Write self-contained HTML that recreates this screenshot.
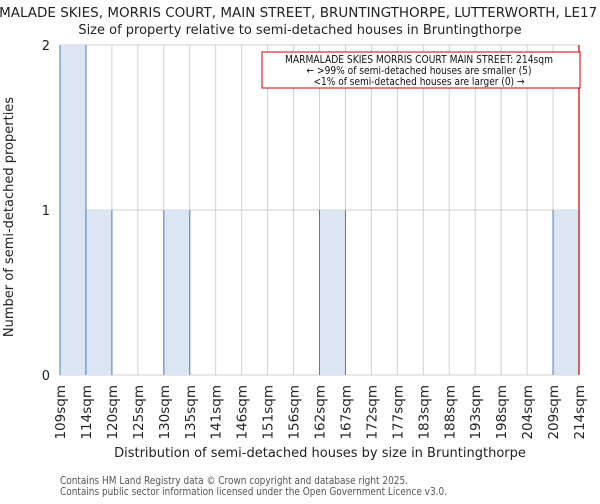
<!DOCTYPE html>
<html><head><meta charset="utf-8"><style>
body{margin:0;background:#fff;font-family:"DejaVu Sans","Liberation Sans",sans-serif}
svg text{font-family:"DejaVu Sans","Liberation Sans",sans-serif}
</style></head><body>
<svg id="chart" width="600" height="500" xmlns="http://www.w3.org/2000/svg">
<text x="300" y="17" font-size="13.5" text-anchor="middle" fill="#222">MARMALADE SKIES, MORRIS COURT, MAIN STREET, BRUNTINGTHORPE, LUTTERWORTH, LE17 5QG</text>
<text x="300" y="34" font-size="13" text-anchor="middle" fill="#222">Size of property relative to semi-detached houses in Bruntingthorpe</text>
<g id="grid"></g>
<g id="bars"></g>
<g id="yticks"></g>
<g id="xticks"></g>
<text transform="translate(13,217) rotate(-90)" font-size="13" text-anchor="middle" fill="#222">Number of semi-detached properties</text>
<text x="320" y="457" font-size="13" text-anchor="middle" fill="#222">Distribution of semi-detached houses by size in Bruntingthorpe</text>
<line id="marker" stroke="#cc0000" stroke-width="1.2"/>
<g>
<rect x="262" y="52" width="318" height="36" fill="#fff" stroke="#cc0000" stroke-width="1"/>
<text x="419" y="63" font-size="10.5" text-anchor="middle" fill="#111" textLength="268" lengthAdjust="spacingAndGlyphs" font-family="Liberation Sans Narrow, Liberation Sans, sans-serif">MARMALADE SKIES MORRIS COURT MAIN STREET: 214sqm</text>
<text x="419" y="74" font-size="10.5" text-anchor="middle" fill="#111" textLength="225" lengthAdjust="spacingAndGlyphs">← &gt;99% of semi-detached houses are smaller (5)</text>
<text x="419" y="85" font-size="10.5" text-anchor="middle" fill="#111" textLength="211" lengthAdjust="spacingAndGlyphs">&lt;1% of semi-detached houses are larger (0) →</text>
</g>
<text x="60" y="484" font-size="11" fill="#555" textLength="348" lengthAdjust="spacingAndGlyphs">Contains HM Land Registry data © Crown copyright and database right 2025.</text>
<text x="60" y="495" font-size="11" fill="#555" textLength="387" lengthAdjust="spacingAndGlyphs">Contains public sector information licensed under the Open Government Licence v3.0.</text>
</svg>
<script>
const binLabels=["109sqm","114sqm","120sqm","125sqm","130sqm","135sqm","141sqm","146sqm","151sqm","156sqm","162sqm","167sqm","172sqm","177sqm","183sqm","188sqm","193sqm","198sqm","204sqm","209sqm","214sqm"];
const counts=[2,1,0,0,1,0,0,0,0,0,1,0,0,0,0,0,0,0,0,1];
const yTicks=[0,1,2];
const markerIndex=20;
const NS="http://www.w3.org/2000/svg";
const x0=60,x1=579,y0=375,y1=45,ymax=2;
const bw=(x1-x0)/counts.length;
const xs=i=>x0+i*bw;
const ys=v=>y0-(v/ymax)*(y0-y1);
function mk(t,a,p){const e=document.createElementNS(NS,t);for(const k in a)e.setAttribute(k,a[k]);p.appendChild(e);return e;}
const grid=document.getElementById('grid'),bars=document.getElementById('bars'),yt=document.getElementById('yticks'),xt=document.getElementById('xticks');
for(let i=0;i<=counts.length;i++){const g=mk('line',{x1:xs(i),x2:xs(i),y1:y1,y2:y0,stroke:'#d0d0d0'},grid);

}
yTicks.forEach(v=>{const g=mk('line',{x1:x0,x2:x1,y1:ys(v),y2:ys(v),stroke:'#d0d0d0'},grid);


const t=mk('text',{x:x0-10,y:ys(v)+5,'font-size':13,'text-anchor':'end',fill:'#222'},yt);t.textContent=v;

});
counts.forEach((c,i)=>{if(c<=0)return;const r=mk('rect',{x:xs(i),y:ys(c),width:bw,height:y0-ys(c),fill:'#dce6f2'},bars);


[xs(i),xs(i+1)].forEach(xx=>{const l=mk('line',{x1:xx,x2:xx,y1:ys(c),y2:y0,stroke:'#4a7cc4','stroke-width':1},bars);

});});
binLabels.forEach((l,i)=>{const t=mk('text',{transform:`translate(${xs(i)+5},385) rotate(-90)`,'font-size':13.5,'text-anchor':'end',fill:'#222'},xt);t.textContent=l;

});
const m=document.getElementById('marker');const mx=xs(markerIndex);
m.setAttribute('x1',mx);m.setAttribute('x2',mx);m.setAttribute('y1',y1);m.setAttribute('y2',y0);
</script>
</body></html>
